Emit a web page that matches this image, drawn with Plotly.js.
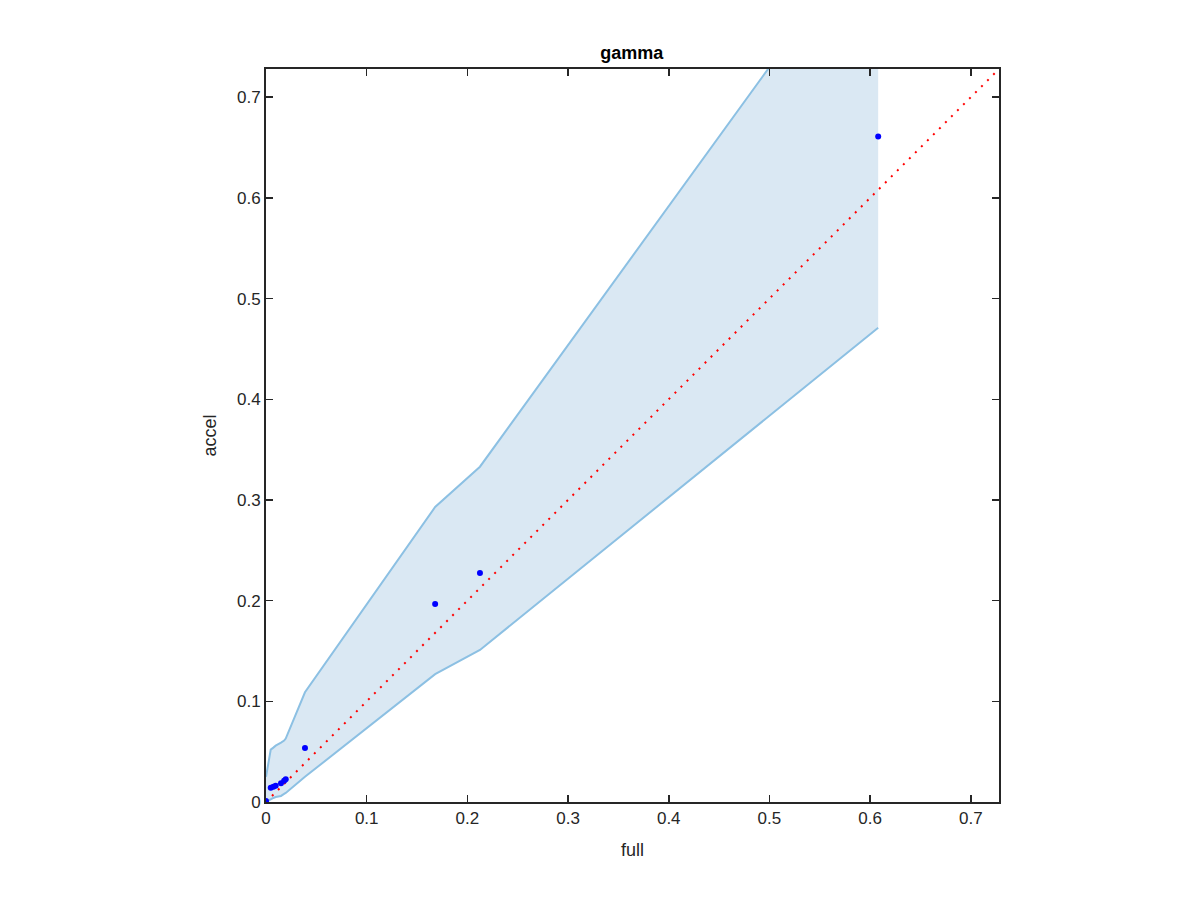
<!DOCTYPE html>
<html>
<head>
<meta charset="utf-8">
<script src="https://cdn.plot.ly/plotly-3.0.1.min.js"></script>
<style>html,body{margin:0;padding:0;background:#fff;}#chart{width:1200px;height:900px;}</style>
</head>
<body>
<div id="chart"></div>
<script>
// Data
const fullVals  = [0, 0.0047, 0.0073, 0.0096, 0.0149, 0.018, 0.0196, 0.0387, 0.168, 0.2125, 0.608];
const accelVals = [0.001, 0.0142, 0.0152, 0.0162, 0.0186, 0.021, 0.0225, 0.0536, 0.1966, 0.2274, 0.661];
const upperVals = [0.025, 0.052, 0.054, 0.056, 0.059, 0.061, 0.063, 0.109, 0.293, 0.333, 0.879];
const lowerVals = [0.0, 0.003, 0.004, 0.005, 0.006, 0.008, 0.009, 0.025, 0.127, 0.151, 0.471];
const diagVals  = [0, 0.728];
const tickVals  = [0, 0.1, 0.2, 0.3, 0.4, 0.5, 0.6, 0.7];
const tickText  = ['0', '0.1', '0.2', '0.3', '0.4', '0.5', '0.6', '0.7'];

const bandX = fullVals.concat(fullVals.slice().reverse());
const bandY = upperVals.concat(lowerVals.slice().reverse());

const traces = [
  {x: bandX, y: bandY, type: 'scatter', mode: 'lines', fill: 'toself',
   fillcolor: 'rgb(218,232,243)', line: {width: 0, color: 'rgba(0,0,0,0)'}, hoverinfo: 'skip'},
  {x: fullVals, y: upperVals, type: 'scatter', mode: 'lines',
   line: {color: 'rgb(140,192,227)', width: 2}},
  {x: fullVals, y: lowerVals, type: 'scatter', mode: 'lines',
   line: {color: 'rgb(140,192,227)', width: 2}},
  {x: diagVals, y: diagVals, type: 'scatter', mode: 'lines',
   line: {color: 'rgb(255,0,0)', width: 2, dash: '2px,6.5px'}},
  {x: fullVals, y: accelVals, type: 'scatter', mode: 'markers',
   marker: {color: 'rgb(0,0,255)', size: 6}}
];

const axisCommon = {
  range: [0, 0.728], tickvals: tickVals, ticktext: tickText,
  ticks: 'inside', ticklen: 7, tickwidth: 1.5, tickcolor: '#262626',
  showline: true, linecolor: '#262626', linewidth: 2, mirror: 'ticks',
  showgrid: false, zeroline: false,
  tickfont: {family: 'Liberation Sans, Arial, sans-serif', size: 17, color: '#262626'}
};

const layout = {
  width: 1200, height: 900,
  margin: {l: 266, r: 201, t: 69, b: 98},
  paper_bgcolor: '#fff', plot_bgcolor: '#fff',
  showlegend: false,
  title: {text: '<b>gamma</b>', x: 0.5265, xanchor: 'center', y: 0.942, yanchor: 'middle',
          font: {family: 'Liberation Sans, Arial, sans-serif', size: 18, color: '#000'}},
  xaxis: Object.assign({}, axisCommon, {
    title: {text: 'full', standoff: 16, font: {family: 'Liberation Sans, Arial, sans-serif', size: 18, color: '#262626'}}
  }),
  yaxis: Object.assign({}, axisCommon, {
    title: {text: 'accel', standoff: 16, font: {family: 'Liberation Sans, Arial, sans-serif', size: 18, color: '#262626'}}
  })
};

Plotly.newPlot('chart', traces, layout, {staticPlot: true, displayModeBar: false});
</script>
</body>
</html>
